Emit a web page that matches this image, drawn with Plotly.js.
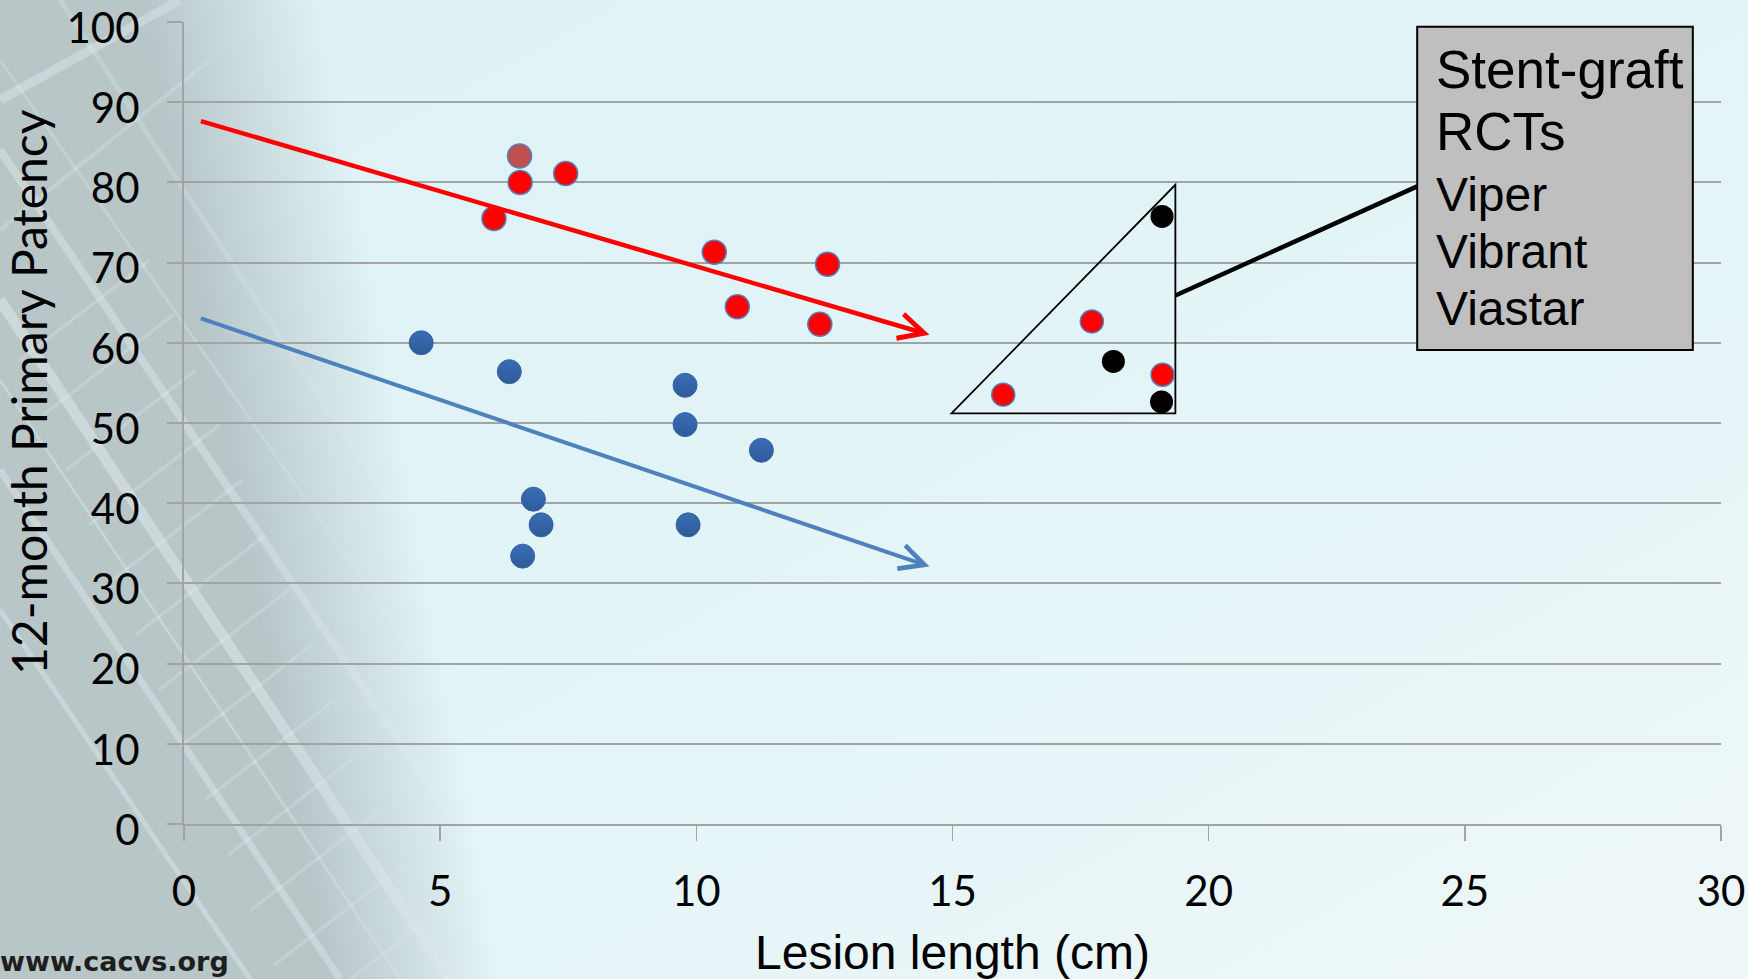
<!DOCTYPE html>
<html>
<head>
<meta charset="utf-8">
<script src="https://cdn.plot.ly/plotly-3.0.1.min.js"></script>
<style>
  html, body { margin: 0; padding: 0; width: 1748px; height: 979px; overflow: hidden; }
  #chart { width: 1748px; height: 979px; }
</style>
</head>
<body>
<div id="chart"></div>
<script>
// ---- data ----
const xTickVals = [0, 5, 10, 15, 20, 25, 30];
const yTickVals = [0, 10, 20, 30, 40, 50, 60, 70, 80, 90, 100];

// Stent-graft studies (red)
const redX = [6.55, 6.56, 7.45, 6.05, 10.35, 12.56, 10.80, 12.41];
const redY = [83.3, 80.0, 81.1, 75.5, 71.3, 69.8, 64.5, 62.3];
const redColors = ['#C0504D', '#FF0000', '#FF0000', '#FF0000', '#FF0000', '#FF0000', '#FF0000', '#FF0000'];

// Bare-stent studies (blue)
const blueX = [4.63, 6.35, 9.78, 9.78, 11.27, 6.82, 6.97, 6.61, 9.84];
const blueY = [60.0, 56.4, 54.7, 49.8, 46.6, 40.5, 37.3, 33.4, 37.3];

// Stent-graft RCTs inside the triangle
const rctRedX = [17.72, 19.10, 15.99];
const rctRedY = [62.67, 56.02, 53.53];
const rctBlackX = [19.09, 18.14, 19.08];
const rctBlackY = [75.76, 57.68, 52.62];

// trend arrows [tail, head]
const redArrowX = [0.30, 14.55];
const redArrowY = [87.7, 61.0];
const blueArrowX = [0.30, 14.55];
const blueArrowY = [63.1, 32.1];

// triangle outline and callout
const triX = [14.98, 19.35, 19.35];
const triY = [51.2, 79.7, 51.2];
const calloutX = [19.35, 24.07];
const calloutY = [65.9, 79.5];
const boxX = [24.07, 29.45];
const boxY = [59.1, 99.4];
const boxLines = ['Stent-graft', 'RCTs', 'Viper', 'Vibrant', 'Viastar'];
const boxLineY = [94.06, 86.37, 78.45, 71.40, 64.33];
const boxLineSize = [53, 53, 48, 48, 48];

// ---- page background (slide art approximation) ----
(function () {
  const W = 1748, H = 979;
  let lines = '';
  const beams = [
    [0, 150, 560, 979, 8, 0.3],
    [0, 300, 450, 979, 11, 0.35],
    [0, 470, 340, 979, 7, 0.3],
    [0, 610, 250, 979, 5, 0.3],
    [60, 0, 700, 979, 5, 0.2],
    [0, 60, 640, 979, 3, 0.22],
    [0, 380, 400, 979, 3, 0.25],
    [0, 100, 180, 0, 9, 0.3],
    [0, 230, 210, 60, 4, 0.2]
  ];
  beams.forEach(b => {
    lines += `<line x1='${b[0]}' y1='${b[1]}' x2='${b[2]}' y2='${b[3]}' stroke='#F2FAFB' stroke-width='${b[4]}' stroke-opacity='${b[5]}'/>`;
  });
  for (let i = 0; i < 18; i++) {
    const t = i * 55;
    lines += `<line x1='${20 + t * 0.42}' y1='${360 + t}' x2='${150 + t * 0.42}' y2='${260 + t}' stroke='#F2FAFB' stroke-width='3' stroke-opacity='0.22'/>`;
  }
  const svg = `<svg xmlns='http://www.w3.org/2000/svg' width='${W}' height='${H}'>
  <defs>
    <linearGradient id='bg' x1='0' y1='0' x2='1' y2='1'>
      <stop offset='0' stop-color='#DDF1F6'/>
      <stop offset='0.5' stop-color='#E3F4F7'/>
      <stop offset='1' stop-color='#EEF7F8'/>
    </linearGradient>
    <linearGradient id='fade' gradientUnits='userSpaceOnUse' x1='240' y1='510' x2='410' y2='478'>
      <stop offset='0' stop-color='#B8C6C8' stop-opacity='1'/>
      <stop offset='1' stop-color='#B8C6C8' stop-opacity='0'/>
    </linearGradient>
    <linearGradient id='fadeM' gradientUnits='userSpaceOnUse' x1='240' y1='510' x2='430' y2='475'>
      <stop offset='0' stop-color='#fff' stop-opacity='1'/>
      <stop offset='1' stop-color='#fff' stop-opacity='0'/>
    </linearGradient>
    <mask id='m'><rect width='${W}' height='${H}' fill='url(#fadeM)'/></mask>
  </defs>
  <rect width='${W}' height='${H}' fill='url(#bg)'/>
  <polygon points='0,0 340,0 560,979 0,979' fill='url(#fade)'/>
  <g mask='url(#m)'>${lines}</g>
</svg>`;
  document.body.style.background = '#E3F4F7 url("data:image/svg+xml;utf8,' + encodeURIComponent(svg) + '") no-repeat 0 0';
})();

// ---- traces ----
const traces = [
  {
    type: 'scatter', mode: 'markers', name: 'Bare stent studies',
    x: blueX, y: blueY,
    marker: { size: 24, color: '#3A6DB5', line: { color: '#3463A6', width: 1 },
              gradient: { type: 'vertical', color: '#2E5B9A' } },
    hoverinfo: 'x+y'
  },
  {
    type: 'scatter', mode: 'markers', name: 'Stent-graft studies',
    x: redX, y: redY,
    marker: { size: 24, color: redColors, line: { color: '#4F81BD', width: 1.5 } },
    hoverinfo: 'x+y'
  },
  {
    type: 'scatter', mode: 'markers', name: 'Stent-graft RCTs',
    x: rctRedX, y: rctRedY,
    marker: { size: 23, color: '#FF0000', line: { color: '#4F81BD', width: 1.5 } },
    hoverinfo: 'x+y'
  },
  {
    type: 'scatter', mode: 'markers', name: 'Stent-graft RCTs (control)',
    x: rctBlackX, y: rctBlackY,
    marker: { size: 23, color: '#000000', line: { color: '#000000', width: 0 } },
    hoverinfo: 'x+y'
  }
];

// ---- annotations ----
const annotations = [
  {
    x: redArrowX[1], y: redArrowY[1], ax: redArrowX[0], ay: redArrowY[0],
    xref: 'x', yref: 'y', axref: 'x', ayref: 'y', text: '',
    showarrow: true, arrowhead: 5, arrowsize: 1.1, arrowwidth: 4.5,
    arrowcolor: '#FF0000', standoff: 0, startstandoff: 0
  },
  {
    x: blueArrowX[1], y: blueArrowY[1], ax: blueArrowX[0], ay: blueArrowY[0],
    xref: 'x', yref: 'y', axref: 'x', ayref: 'y', text: '',
    showarrow: true, arrowhead: 5, arrowsize: 1.2, arrowwidth: 4,
    arrowcolor: '#4F81BD', standoff: 0, startstandoff: 0
  },
  {
    text: '<b>www.cacvs.org</b>', xref: 'paper', yref: 'paper',
    x: -0.121, y: -0.1715, xanchor: 'left', yanchor: 'middle', showarrow: false,
    font: { family: 'DejaVu Sans', size: 27, color: '#1E1E1E' }
  }
];
boxLines.forEach((t, i) => {
  annotations.push({
    text: t, xref: 'x', yref: 'y', x: 24.40, y: boxLineY[i],
    xanchor: 'left', yanchor: 'middle', showarrow: false,
    font: { family: 'Liberation Sans, Arial, sans-serif', size: boxLineSize[i], color: '#000000' }
  });
});

// ---- shapes ----
const shapes = [
  {
    type: 'path', xref: 'x', yref: 'y', layer: 'between',
    path: 'M' + triX[0] + ',' + triY[0] + ' L' + triX[1] + ',' + triY[1] + ' L' + triX[2] + ',' + triY[2] + ' Z',
    line: { color: '#000000', width: 1.8 }
  },
  {
    type: 'line', xref: 'x', yref: 'y', layer: 'between',
    x0: calloutX[0], y0: calloutY[0], x1: calloutX[1], y1: calloutY[1],
    line: { color: '#000000', width: 4.5 }
  },
  {
    type: 'rect', xref: 'x', yref: 'y', layer: 'above',
    x0: boxX[0], x1: boxX[1], y0: boxY[0], y1: boxY[1],
    fillcolor: '#BFBFBF', line: { color: '#000000', width: 2 }
  }
];

const axisGrey = '#A3A3A3';
const layout = {
  width: 1748, height: 979,
  margin: { l: 184, r: 27, t: 22, b: 155 },
  paper_bgcolor: 'rgba(0,0,0,0)',
  plot_bgcolor: 'rgba(0,0,0,0)',
  showlegend: false,
  xaxis: {
    range: [0, 30], tickmode: 'array', tickvals: xTickVals, ticktext: xTickVals.map(String),
    showgrid: false, zeroline: false,
    showline: true, linecolor: axisGrey, linewidth: 2,
    ticks: 'outside', ticklen: 15, tickwidth: 1.5, tickcolor: axisGrey,
    tickfont: { family: 'Lato, sans-serif', size: 42, color: '#000000' },
    ticklabelstandoff: 15, ticklabeloverflow: 'allow',
    automargin: false,
    title: { text: 'Lesion length (cm)', font: { family: 'Liberation Sans, Arial, sans-serif', size: 48, color: '#000000' }, standoff: 22 }
  },
  yaxis: {
    range: [0, 100], tickmode: 'array', tickvals: yTickVals, ticktext: yTickVals.map(String),
    showgrid: true, gridcolor: axisGrey, gridwidth: 2, zeroline: false,
    showline: true, linecolor: axisGrey, linewidth: 2,
    ticks: 'outside', ticklen: 15, tickwidth: 2, tickcolor: axisGrey,
    tickfont: { family: 'Lato, sans-serif', size: 42, color: '#000000' },
    ticklabelstandoff: 19, ticklabelshift: 6, ticklabeloverflow: 'allow',
    automargin: false,
    title: { text: '&nbsp;&nbsp;&nbsp;&nbsp;&nbsp;12-month Primary Patency', font: { family: 'Lato, sans-serif', size: 48, color: '#000000' }, standoff: 18 }
  },
  annotations: annotations,
  shapes: shapes
};

Plotly.newPlot('chart', traces, layout, { staticPlot: true, displayModeBar: false });
</script>
</body>
</html>
